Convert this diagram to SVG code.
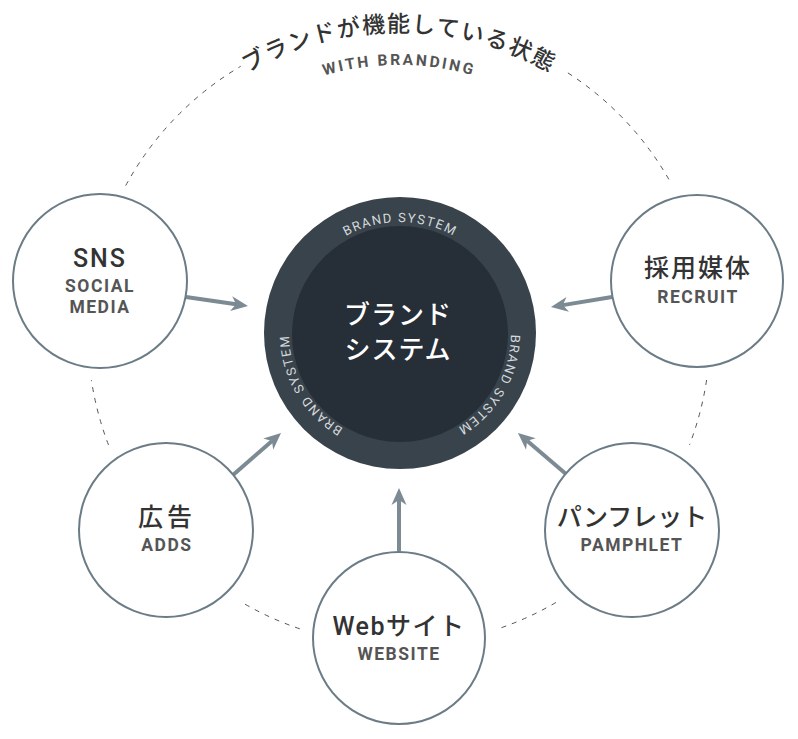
<svg xmlns="http://www.w3.org/2000/svg" xmlns:xlink="http://www.w3.org/1999/xlink" width="798" height="739" viewBox="0 0 798 739">
<style>
.node{fill:#fff;stroke:#6b7c87;stroke-width:2}
.dash{fill:none;stroke:#555;stroke-width:1;stroke-dasharray:5 6}
.arrow{fill:none;stroke:#7b8a93;stroke-width:4}
.jp{font-family:"Noto Sans CJK JP","Roboto",sans-serif}
.main{font-family:"Roboto","Noto Sans CJK JP",sans-serif;font-size:25px;font-weight:500;fill:#333;text-anchor:middle}
.sub{font-family:"Roboto",sans-serif;font-size:17.5px;font-weight:700;fill:#555;letter-spacing:1.5px;text-anchor:middle}
.ring{font-family:"Roboto",sans-serif;font-size:13px;fill:#d3d8db;letter-spacing:1.5px;text-anchor:middle}
</style>
<defs>
<marker id="ah" viewBox="-18 -8 18 16" refX="-12" refY="0" markerWidth="18" markerHeight="16" markerUnits="userSpaceOnUse" orient="auto">
<path d="M0,0 L-17,-7.5 L-12,0 L-17,7.5 Z" fill="#7b8a93"/>
</marker>
<path id="titleArc" d="M137.5,183 A302,302 0 0 1 660.5,183"/>
<path id="subArc" d="M166,199.5 A269,269 0 0 1 632,199.5"/>
<path id="ringArc" d="M303.87,277.5 A111,111 0 1 1 496.13,388.5 A111,111 0 1 1 303.87,277.5"/>
</defs>

<g id="outer-ring">
<path class="dash" d="M125.7,185.6 A311,311 0 0 1 240.7,66.3"/>
<path class="dash" d="M567.9,72.9 A311,311 0 0 1 669.7,180.9"/>
<path class="dash" d="M706.6,380 A311,311 0 0 1 689.5,444.9"/>
<path class="dash" d="M555.9,602.5 A311,311 0 0 1 498.7,628.6"/>
<path class="dash" d="M299.8,628.8 A311,311 0 0 1 243.5,603.3"/>
<path class="dash" d="M108.5,444.9 A311,311 0 0 1 91.4,380"/>
</g>

<g id="title">
<text class="jp" font-size="23" font-weight="500" fill="#333" letter-spacing="1.5" text-anchor="middle"><textPath href="#titleArc" xlink:href="#titleArc" startOffset="50%">ブランドが機能している状態</textPath></text>
<text font-family="Roboto,sans-serif" font-size="15.5" font-weight="700" fill="#555" letter-spacing="2.5" text-anchor="middle"><textPath href="#subArc" xlink:href="#subArc" startOffset="50%">WITH BRANDING</textPath></text>
</g>

<g id="connectors">
<line class="arrow" x1="186" y1="297" x2="236.1" y2="304.3" marker-end="url(#ah)"/>
<line class="arrow" x1="612" y1="297" x2="562.8" y2="305.1" marker-end="url(#ah)"/>
<line class="arrow" x1="233" y1="475" x2="272" y2="440.9" marker-end="url(#ah)"/>
<line class="arrow" x1="399" y1="551" x2="399" y2="500" marker-end="url(#ah)"/>
<line class="arrow" x1="566" y1="474" x2="527.1" y2="440.8" marker-end="url(#ah)"/>
</g>

<g id="brand-system">
<circle cx="400" cy="333" r="136" fill="#39434b"/>
<circle cx="400" cy="334" r="108" fill="#262e37"/>
<text class="ring"><textPath href="#ringArc" xlink:href="#ringArc" startOffset="16.667%">BRAND SYSTEM</textPath></text>
<text class="ring"><textPath href="#ringArc" xlink:href="#ringArc" startOffset="50%">BRAND SYSTEM</textPath></text>
<text class="ring"><textPath href="#ringArc" xlink:href="#ringArc" startOffset="83.333%">BRAND SYSTEM</textPath></text>
<text class="jp" x="398" y="324" font-size="26" font-weight="500" fill="#fff" text-anchor="middle" letter-spacing="1">ブランド</text>
<text class="jp" x="398" y="359" font-size="26" font-weight="500" fill="#fff" text-anchor="middle" letter-spacing="1">システム</text>
</g>

<g id="sns">
<circle class="node" cx="100" cy="281" r="87"/>
<text class="main" x="100" y="267" letter-spacing="2">SNS</text>
<text class="sub" x="100" y="292">SOCIAL</text>
<text class="sub" x="100" y="313">MEDIA</text>
</g>

<g id="recruit">
<circle class="node" cx="697" cy="281" r="86"/>
<text class="main" x="698" y="277" font-size="24" letter-spacing="2">採用媒体</text>
<text class="sub" x="698" y="303">RECRUIT</text>
</g>

<g id="adds">
<circle class="node" cx="166" cy="530" r="87"/>
<text class="main" x="167" y="526" font-size="24" letter-spacing="4">広告</text>
<text class="sub" x="167" y="551">ADDS</text>
</g>

<g id="website">
<circle class="node" cx="399" cy="638" r="86"/>
<text class="main" x="399" y="635" font-size="24" letter-spacing="1.5">Webサイト</text>
<text class="sub" x="399" y="660">WEBSITE</text>
</g>

<g id="pamphlet">
<circle class="node" cx="632" cy="530" r="87"/>
<text class="main" x="632" y="526" font-size="22" letter-spacing="0">パンフレット</text>
<text class="sub" x="632" y="551">PAMPHLET</text>
</g>
</svg>
